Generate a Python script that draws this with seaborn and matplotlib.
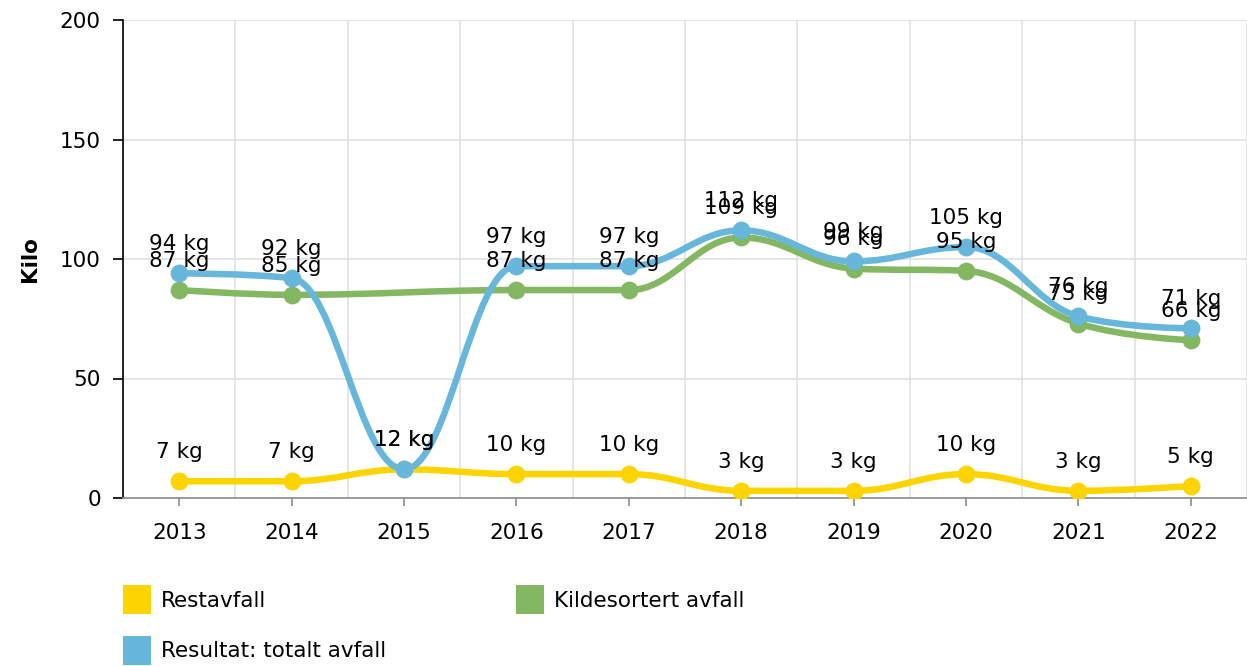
#!/usr/bin/env python

import matplotlib.pyplot as plt
import numpy as np
import pandas as pd
import seaborn as sns
from matplotlib.patches import Patch, PathPatch
from matplotlib.path import Path

# Data.
years = ["2013", "2014", "2015", "2016", "2017", "2018", "2019", "2020", "2021", "2022"]
restavfall = [7, 7, 12, 10, 10, 3, 3, 10, 3, 5]
kildesortert = [87, 85, None, 87, 87, 109, 96, 95, 73, 66]
totalt = [94, 92, 12, 97, 97, 112, 99, 105, 76, 71]

series_names = ["Restavfall", "Kildesortert avfall", "Resultat: totalt avfall"]
colors = ["#FDD400", "#84B761", "#67B7DC"]

sns.set_style("white")
plt.rcParams["font.family"] = ["DejaVu Sans"]
plt.rcParams["text.color"] = "#000000"
plt.rcParams["axes.labelcolor"] = "#000000"
plt.rcParams["xtick.color"] = "#000000"
plt.rcParams["ytick.color"] = "#000000"

df = pd.DataFrame(
    {
        "year": years,
        "Restavfall": restavfall,
        "Kildesortert avfall": kildesortert,
        "Resultat: totalt avfall": totalt,
    }
)
df["pos"] = np.arange(len(years))
long = df.melt(id_vars=["year", "pos"], var_name="serie", value_name="kg").dropna()


def spline_path(xs, ys, smoothing=1.5):
    # Smoothed line: bezier control points per point, kept between the
    # neighbouring values so the curve does not make false peaks.
    xs = list(map(float, xs))
    ys = list(map(float, ys))
    n = len(xs)
    left = [None] * n
    right = [None] * n
    denom = smoothing + 1
    for i in range(1, n - 1):
        px, py = xs[i], ys[i]
        lx, ly = xs[i - 1], ys[i - 1]
        nx, ny = xs[i + 1], ys[i + 1]
        lcx = (smoothing * px + lx) / denom
        lcy = (smoothing * py + ly) / denom
        rcx = (smoothing * px + nx) / denom
        rcy = (smoothing * py + ny) / denom
        corr = 0.0
        if rcx != lcx:
            corr = (rcy - lcy) * (rcx - px) / (rcx - lcx) + py - rcy
        lcy += corr
        rcy += corr
        if lcy > ly and lcy > py:
            lcy = max(ly, py)
            rcy = 2 * py - lcy
        elif lcy < ly and lcy < py:
            lcy = min(ly, py)
            rcy = 2 * py - lcy
        if rcy > ny and rcy > py:
            rcy = max(ny, py)
            lcy = 2 * py - rcy
        elif rcy < ny and rcy < py:
            rcy = min(ny, py)
            lcy = 2 * py - rcy
        left[i] = (lcx, lcy)
        right[i] = (rcx, rcy)

    verts = [(xs[0], ys[0])]
    codes = [Path.MOVETO]
    for i in range(1, n):
        c1 = right[i - 1] if right[i - 1] is not None else (xs[i - 1], ys[i - 1])
        c2 = left[i] if left[i] is not None else (xs[i], ys[i])
        verts += [c1, c2, (xs[i], ys[i])]
        codes += [Path.CURVE4, Path.CURVE4, Path.CURVE4]
    return Path(verts, codes)


fig, ax = plt.subplots(figsize=(12.47, 6.66), dpi=100)
fig.subplots_adjust(left=123 / 1247, right=1.0, bottom=1 - 498 / 666, top=1 - 20 / 666)

for name, color in zip(series_names, colors):
    sub = long[long["serie"] == name]
    path = spline_path(sub["pos"].values, sub["kg"].values)
    ax.add_patch(
        PathPatch(path, fill=False, edgecolor=color, lw=4.7, capstyle="round",
                  joinstyle="round", zorder=3)
    )
    sns.scatterplot(
        data=sub, x="pos", y="kg", color=color, s=165, linewidth=0, ax=ax, zorder=4
    )
    for x, v in zip(sub["pos"], sub["kg"]):
        ax.annotate(
            f"{int(v)} kg",
            (x, v),
            xytext=(0, 21),
            textcoords="offset points",
            ha="center",
            va="center",
            fontsize=15.5,
            color="#000000",
            zorder=6,
        )

ax.set_xlim(-0.5, len(years) - 0.5)
ax.set_ylim(0, 200)
ax.set_yticks([0, 50, 100, 150, 200])
ax.set_xticks(df["pos"])
ax.set_xticklabels(years)
ax.set_xticks(np.arange(len(years) + 1) - 0.5, minor=True)
ax.set_xlabel("")

ax.grid(False)
ax.yaxis.grid(True, color="#e0e0e0", lw=1.2)
ax.xaxis.grid(True, which="minor", color="#e0e0e0", lw=1.2)
ax.set_axisbelow(True)

for side in ["top", "right"]:
    ax.spines[side].set_visible(False)
ax.spines["left"].set_color("#000000")
ax.spines["left"].set_linewidth(1.2)
ax.spines["bottom"].set_color("#8c8c8c")
ax.spines["bottom"].set_linewidth(1.2)

ax.tick_params(axis="y", which="major", left=True, length=7, width=1.2, color="#000000",
               pad=9, labelsize=15.5, labelcolor="#000000")
ax.tick_params(axis="x", which="major", bottom=True, length=6, width=1.2, color="#8c8c8c",
               pad=12, labelsize=15.5, labelcolor="#000000")
ax.tick_params(axis="x", which="minor", bottom=False)

ax.set_ylabel("Kilo", fontsize=15.5, fontweight="bold", color="#000000")
ax.yaxis.set_label_coords(-93 / 1124, 0.5)
ax.yaxis.label.set_va("center")

handles = [Patch(facecolor=c, edgecolor="none") for c in colors]
order = [0, 2, 1]
fig.legend(
    [handles[i] for i in order],
    [series_names[i] for i in order],
    loc="upper left",
    bbox_to_anchor=(123 / 1247, 1 - 585 / 666),
    ncol=2,
    frameon=False,
    fontsize=15.5,
    labelcolor="#000000",
    borderpad=0,
    borderaxespad=0,
    handlelength=1.3,
    handleheight=1.7,
    handletextpad=0.45,
    labelspacing=1.0,
    columnspacing=6.07,
)

fig.savefig("out.png", dpi=100)
